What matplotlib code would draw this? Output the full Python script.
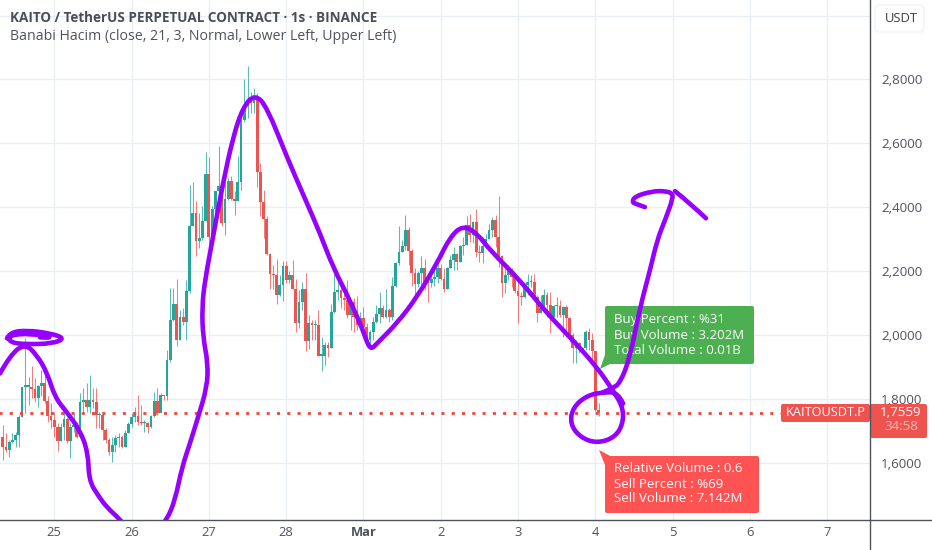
import matplotlib
matplotlib.use('Agg')
import matplotlib.pyplot as plt
import numpy as np
from matplotlib.patches import FancyBboxPatch, PathPatch, Polygon
from matplotlib.path import Path

plt.rcParams['font.family'] = ['Open Sans', 'DejaVu Sans']

# hourly candles, first candle is 16 hours before the 25th
first_candle = -16
first_open = 1.681
closes = [
    1.650, 1.639, 1.665, 1.672, 1.686, 1.744, 1.838, 1.838, 1.838, 1.830, 1.801, 1.840, 1.848, 1.794, 1.746, 1.733,
    1.710, 1.668, 1.712, 1.735, 1.668, 1.712, 1.718, 1.681, 1.791, 1.796, 1.775, 1.796, 1.791, 1.749, 1.749, 1.702,
    1.670, 1.634, 1.655, 1.676, 1.681, 1.650, 1.691, 1.721, 1.744, 1.746, 1.728, 1.723, 1.723, 1.712, 1.746, 1.794,
    1.754, 1.812, 1.809, 1.922, 2.047, 2.098, 1.985, 2.056, 2.039, 2.136, 2.340, 2.381, 2.293, 2.303, 2.358, 2.504,
    2.306, 2.394, 2.449, 2.467, 2.350, 2.425, 2.482, 2.426, 2.418, 2.480, 2.673, 2.717, 2.733, 2.727, 2.737, 2.511,
    2.415, 2.363, 2.254, 2.192, 2.187, 2.126, 2.157, 2.215, 2.173, 2.188, 2.142, 2.038, 2.103, 2.145, 1.982, 2.036,
    2.031, 2.031, 1.935, 1.935, 1.967, 1.958, 2.070, 2.134, 2.140, 2.114, 2.109, 2.062, 2.103, 2.057, 2.031, 2.052,
    2.026, 1.984, 2.010, 2.039, 2.064, 2.085, 2.055, 2.078, 2.055, 2.152, 2.225, 2.260, 2.277, 2.329, 2.263, 2.194,
    2.159, 2.194, 2.208, 2.166, 2.161, 2.176, 2.182, 2.208, 2.176, 2.145, 2.208, 2.234, 2.252, 2.228, 2.277, 2.280,
    2.343, 2.312, 2.353, 2.260, 2.256, 2.277, 2.301, 2.329, 2.360, 2.306, 2.246, 2.163, 2.187, 2.202, 2.182, 2.138,
    2.121, 2.119, 2.156, 2.166, 2.166, 2.119, 2.069, 2.083, 2.124, 2.093, 2.057, 2.090, 2.090, 2.062, 2.086, 2.052,
    2.000, 1.958, 1.974, 1.953, 1.958, 2.010, 1.984, 1.948, 1.766, 1.7559,
]
highs = [
    1.718, 1.691, 1.670, 1.691, 1.697, 1.749, 1.838, 1.990, 1.869, 1.901, 1.864, 1.843, 1.890, 1.890, 1.807, 1.786,
    1.759, 1.723, 1.723, 1.780, 1.744, 1.723, 1.754, 1.728, 1.817, 1.833, 1.848, 1.875, 1.833, 1.833, 1.759, 1.754,
    1.707, 1.676, 1.681, 1.686, 1.691, 1.686, 1.702, 1.728, 1.754, 1.775, 1.812, 1.780, 1.733, 1.728, 1.749, 1.822,
    1.833, 1.817, 1.812, 1.953, 2.147, 2.147, 2.175, 2.079, 2.084, 2.173, 2.470, 2.480, 2.418, 2.381, 2.402, 2.571,
    2.558, 2.402, 2.449, 2.590, 2.475, 2.501, 2.491, 2.498, 2.449, 2.561, 2.678, 2.800, 2.842, 2.761, 2.772, 2.756,
    2.538, 2.452, 2.371, 2.256, 2.220, 2.237, 2.188, 2.230, 2.230, 2.199, 2.235, 2.176, 2.140, 2.166, 2.194, 2.062,
    2.046, 2.046, 2.078, 1.993, 1.976, 1.979, 2.098, 2.191, 2.176, 2.160, 2.145, 2.171, 2.109, 2.114, 2.121, 2.072,
    2.088, 2.036, 2.015, 2.057, 2.093, 2.135, 2.093, 2.145, 2.083, 2.182, 2.228, 2.340, 2.296, 2.374, 2.338, 2.270,
    2.208, 2.200, 2.246, 2.236, 2.176, 2.208, 2.213, 2.223, 2.221, 2.208, 2.213, 2.249, 2.275, 2.256, 2.280, 2.306,
    2.371, 2.379, 2.356, 2.395, 2.280, 2.306, 2.317, 2.348, 2.369, 2.374, 2.435, 2.249, 2.228, 2.218, 2.208, 2.187,
    2.166, 2.135, 2.161, 2.192, 2.187, 2.192, 2.124, 2.124, 2.142, 2.135, 2.135, 2.093, 2.117, 2.109, 2.090, 2.093,
    2.057, 2.005, 1.984, 1.979, 1.963, 2.015, 2.020, 2.005, 1.948, 1.786,
]
lows = [
    1.608, 1.634, 1.618, 1.660, 1.650, 1.650, 1.744, 1.754, 1.780, 1.801, 1.791, 1.775, 1.807, 1.786, 1.728, 1.707,
    1.681, 1.637, 1.668, 1.670, 1.660, 1.613, 1.697, 1.676, 1.681, 1.754, 1.759, 1.754, 1.770, 1.707, 1.707, 1.670,
    1.660, 1.623, 1.602, 1.634, 1.650, 1.644, 1.650, 1.691, 1.712, 1.728, 1.718, 1.718, 1.697, 1.693, 1.707, 1.744,
    1.749, 1.763, 1.796, 1.796, 1.916, 2.042, 1.964, 1.985, 2.032, 1.985, 2.131, 2.340, 2.246, 2.272, 2.298, 2.355,
    2.230, 2.293, 2.371, 2.402, 2.340, 2.313, 2.423, 2.423, 2.376, 2.418, 2.454, 2.668, 2.678, 2.694, 2.694, 2.463,
    2.373, 2.303, 2.251, 2.142, 2.142, 2.095, 2.121, 2.105, 2.163, 2.163, 2.142, 2.010, 2.020, 2.078, 1.948, 1.955,
    1.984, 1.984, 1.935, 1.886, 1.906, 1.932, 1.958, 2.067, 2.109, 2.083, 2.078, 2.052, 2.015, 2.010, 2.015, 2.026,
    1.994, 1.963, 1.958, 1.984, 2.036, 2.036, 2.052, 2.052, 2.041, 2.046, 2.150, 2.218, 2.260, 2.265, 2.218, 2.152,
    2.114, 2.150, 2.156, 2.140, 2.104, 2.150, 2.152, 2.161, 2.173, 2.135, 2.145, 2.208, 2.202, 2.202, 2.228, 2.249,
    2.280, 2.291, 2.286, 2.244, 2.228, 2.225, 2.275, 2.301, 2.306, 2.275, 2.213, 2.117, 2.130, 2.171, 2.150, 2.130,
    2.038, 2.093, 2.114, 2.124, 2.150, 2.114, 2.041, 2.067, 2.083, 2.057, 2.007, 2.057, 2.057, 2.057, 1.994, 2.010,
    1.979, 1.913, 1.911, 1.942, 1.953, 1.953, 1.953, 1.922, 1.760, 1.745,
]

last_price = 1.7559
price_ticks = [1.6, 1.8, 2.0, 2.2, 2.4, 2.6, 2.8]
price_labels = ['1,6000', '1,8000', '2,0000', '2,2000', '2,4000', '2,6000', '2,8000']
day_ticks = [0, 1, 2, 3, 4, 5, 6, 7, 8, 9, 10]
day_labels = ['25', '26', '27', '28', 'Mar', '2', '3', '4', '5', '6', '7']

# pen strokes drawn by hand on the chart, in days after the 25th and price
hill_days = [-0.702, -0.573, -0.379, -0.224, -0.094, 0.009, 0.164, 0.332, 0.436, 0.449, 0.565, 0.682, 0.850, 0.915,
             1.367, 1.458, 1.561, 1.652, 1.755, 1.859, 1.975, 1.988, 1.924, 1.911, 1.949, 2.053, 2.182, 2.312, 2.441,
             2.596, 2.752, 3.010, 3.269, 3.437, 3.605, 3.825, 3.994, 4.084, 4.175, 4.433, 4.692, 4.951, 5.119, 5.287,
             5.468, 5.637, 6.025, 6.374, 6.710, 7.021, 7.228, 7.358, 7.358, 7.254, 7.021, 6.801, 6.672, 6.710, 6.891,
             7.098, 7.292, 7.358]
hill_prices = [1.879, 1.936, 1.973, 1.936, 1.882, 1.804, 1.757, 1.701, 1.632, 1.544, 1.497, 1.459, 1.422, 1.400,
               1.400, 1.422, 1.481, 1.585, 1.660, 1.741, 1.835, 1.911, 1.992, 2.086, 2.171, 2.306, 2.475, 2.619, 2.713,
               2.754, 2.713, 2.556, 2.412, 2.318, 2.212, 2.108, 2.014, 1.951, 1.973, 2.036, 2.118, 2.224, 2.306, 2.343,
               2.318, 2.265, 2.171, 2.067, 1.983, 1.898, 1.826, 1.773, 1.722, 1.679, 1.660, 1.679, 1.722, 1.773, 1.810,
               1.820, 1.820, 1.785]
ring_days = [-0.612, -0.573, -0.353, -0.056, 0.138, -0.017, -0.353, -0.573, -0.599, -0.314, 0.035, -0.185]
ring_prices = [1.989, 2.008, 2.014, 2.005, 1.989, 1.973, 1.970, 1.976, 1.998, 2.005, 1.989, 1.992]
rise_days = [7.098, 7.214, 7.319, 7.448, 7.578, 7.707, 7.798, 7.901, 8.005, 7.992, 7.901, 7.745, 7.512, 7.473, 7.538, 7.641]
rise_prices = [1.820, 1.832, 1.848, 1.929, 2.086, 2.202, 2.296, 2.359, 2.428, 2.444, 2.450, 2.450, 2.434, 2.415, 2.409, 2.400]
tip_days = [8.030, 8.224, 8.431]
tip_prices = [2.450, 2.412, 2.365]

GREEN = '#26a69a'
RED = '#ef5350'
PEN = '#9600ff'
GRID = '#e9eff5'
AXIS = '#50535e'
TEXT = '#50535e'


def smooth_stroke(xs, ys):
    # quadratic curve through the midpoints, the read points act as control points
    pts = np.column_stack([xs, ys])
    verts = [pts[0]]
    codes = [Path.MOVETO]
    for i in range(1, len(pts) - 1):
        end = pts[-1] if i == len(pts) - 2 else (pts[i] + pts[i + 1]) / 2
        verts += [pts[i], end]
        codes += [Path.CURVE3, Path.CURVE3]
    return Path(verts, codes)


fig = plt.figure(figsize=(9.32, 5.5), dpi=100)
pos = [0, 30.5 / 550, 870 / 932, 519.5 / 550]
ax = fig.add_axes(pos, zorder=1)
ax.set_xlim(-0.7025, 10.553)
ax.set_ylim(1.4216, 3.0486)

ax.set_yticks(price_ticks + [3.0])
ax.set_yticklabels(price_labels + [''])
ax.set_xticks(day_ticks)
ax.set_xticklabels(day_labels)
ax.yaxis.tick_right()
ax.tick_params(axis='y', length=0, pad=8, labelsize=9.6, labelcolor=TEXT)
ax.tick_params(axis='x', length=0, pad=5, labelsize=9.4, labelcolor=TEXT)
ax.get_xticklabels()[4].set_fontweight('bold')
ax.grid(color=GRID, linewidth=1.0)
ax.set_axisbelow(True)
for s in ax.spines.values():
    s.set_visible(False)

# candles
days = (first_candle + np.arange(len(closes))) / 24
opens = [first_open] + closes[:-1]
colors = [GREEN if c >= o else RED for o, c in zip(opens, closes)]
ax.vlines(days, lows, highs, colors=colors, linewidth=0.75, alpha=0.75, zorder=3)
body_bottom = np.minimum(opens, closes)
body_height = np.abs(np.array(closes) - np.array(opens))
ax.bar(days, np.maximum(body_height, 0.004), bottom=body_bottom, width=2.8 / 77.3, color=colors, zorder=4)

# last price line, it stops at the symbol label
ax.plot([days[0] - 1, 9.65], [last_price, last_price], color='#f44336', linewidth=2.0,
        linestyle=(0, (1.1, 2.6)), zorder=5)

# labels and boxes are placed in pixels of the picture
ov = fig.add_axes([0, 0, 1, 1], zorder=2)
ov.set_xlim(0, 932)
ov.set_ylim(550, 0)
ov.axis('off')

ov.plot([870, 870], [0, 550], color=AXIS, linewidth=1.0)
ov.plot([0, 932], [519.5, 519.5], color=AXIS, linewidth=1.0)

ov.text(10, 18, 'KAITO / TetherUS PERPETUAL CONTRACT · 1s · BINANCE', fontsize=9.75, fontweight='bold',
        color='#4a4e5a', va='center')
ov.text(10, 37, 'Banabi Hacim (close, 21, 3, Normal, Lower Left, Upper Left)', fontsize=10.15,
        color=TEXT, va='center')

ov.add_patch(FancyBboxPatch((875, 5), 49, 27, boxstyle='round,pad=0,rounding_size=4',
                            facecolor='white', edgecolor='#f0f3fa', linewidth=1))
ov.text(901, 19, 'USDT', fontsize=9.4, color='#3c4049', ha='center', va='center')

# green tooltip
ov.add_patch(FancyBboxPatch((605, 306), 149, 58, boxstyle='round,pad=0,rounding_size=2',
                            facecolor='#4caf50', edgecolor='none'))
ov.add_patch(Polygon([[600, 369], [605, 355], [612, 363]], facecolor='#4caf50', edgecolor='none'))
for y, line in zip([319, 335, 350], ['Buy Percent : %31', 'Buy Volume : 3.202M', 'Total Volume : 0.01B']):
    ov.text(614, y, line, fontsize=9.5, color='white', va='center')

# red tooltip
ov.add_patch(FancyBboxPatch((605, 456), 154, 57, boxstyle='round,pad=0,rounding_size=2',
                            facecolor='#ff5252', edgecolor='none'))
ov.add_patch(Polygon([[599, 450], [605, 465], [612, 457]], facecolor='#ff5252', edgecolor='none'))
for y, line in zip([468, 484, 499], ['Relative Volume : 0.6', 'Sell Percent : %69', 'Sell Volume : 7.142M']):
    ov.text(614, y, line, fontsize=9.5, color='white', va='center')

# symbol and price labels
ov.add_patch(FancyBboxPatch((781, 404), 89, 18, boxstyle='round,pad=0,rounding_size=2',
                            facecolor=RED, edgecolor='none'))
ov.text(825.5, 413, 'KAITOUSDT.P', fontsize=9.2, color='white', ha='center', va='center')
ov.add_patch(FancyBboxPatch((870, 404), 57, 34, boxstyle='round,pad=0,rounding_size=2',
                            facecolor=RED, edgecolor='none'))
ov.text(901, 412, '1,7559', fontsize=9.6, color='white', ha='center', va='center')
ov.text(901, 427, '34:58', fontsize=9.6, color='#fbb9b7', ha='center', va='center')

# pen strokes sit on top of everything
pen = fig.add_axes(pos, zorder=3)
pen.set_xlim(ax.get_xlim())
pen.set_ylim(ax.get_ylim())
pen.axis('off')
for xs, ys in [(hill_days, hill_prices), (ring_days, ring_prices), (rise_days, rise_prices), (tip_days, tip_prices)]:
    pen.add_patch(PathPatch(smooth_stroke(xs, ys), facecolor='none', edgecolor=PEN, linewidth=3.3,
                            capstyle='round', joinstyle='round'))

fig.savefig('out.png', dpi=100)
plt.close(fig)
